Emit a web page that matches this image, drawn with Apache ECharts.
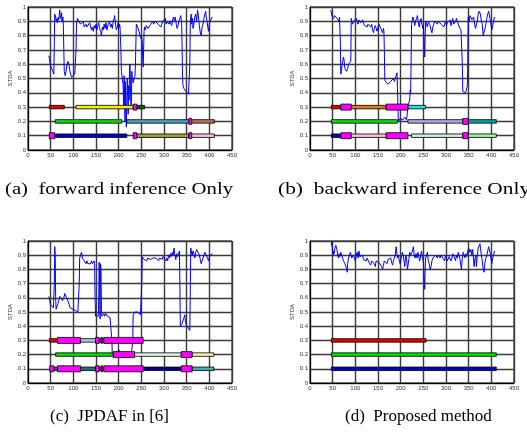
<!DOCTYPE html>
<html>
<head>
<meta charset="utf-8">
<script src="https://cdn.jsdelivr.net/npm/echarts@6/dist/echarts.min.js"></script>
<style>
html,body{margin:0;padding:0;background:#fff;}
#main{width:527px;height:446px;}
</style>
</head>
<body>
<div id="main"></div>
<script>
// axis ticks
var xTicks = [0, 50, 100, 150, 200, 250, 300, 350, 400, 450];
var yTicks = [0, 0.1, 0.2, 0.3, 0.4, 0.5, 0.6, 0.7, 0.8, 0.9, 1];

var captions = ['(a)  forward inference Only', '(b)  backward inference Only', '(c)  JPDAF in [6]', '(d)  Proposed method'];

// STDA curves [frame, value]
var lineA = [[46,0.66],[47,0.64],[49,0.6],[51,0.58],[53,0.57],[55,0.55],[57,0.53],[58,0.75],[59,0.95],[61,0.93],[62,0.9],[64,0.92],[65,0.89],[67,0.93],[68,0.91],[70,0.98],[71,0.94],[72,0.92],[74,0.96],[75,0.9],[77,0.93],[78,0.86],[79,0.7],[80,0.55],[82,0.52],[84,0.55],[86,0.6],[88,0.62],[90,0.6],[92,0.56],[94,0.53],[96,0.51],[98,0.52],[100,0.52],[103,0.53],[105,0.53],[106,0.7],[107,0.88],[109,0.92],[110,0.93],[112,0.9],[114,0.91],[116,0.88],[118,0.89],[120,0.87],[122,0.9],[124,0.86],[126,0.86],[128,0.88],[130,0.86],[132,0.87],[134,0.85],[136,0.89],[138,0.88],[140,0.84],[142,0.86],[144,0.83],[146,0.87],[148,0.85],[150,0.88],[152,0.84],[154,0.87],[156,0.89],[158,0.85],[160,0.83],[162,0.8],[164,0.86],[166,0.84],[168,0.88],[170,0.85],[172,0.89],[174,0.84],[176,0.87],[178,0.86],[180,0.9],[182,0.86],[184,0.88],[186,0.85],[188,0.9],[190,0.92],[191,0.94],[193,0.88],[195,0.84],[197,0.86],[199,0.89],[200,0.85],[202,0.88],[203,0.86],[204,0.85],[205,0.7],[206,0.55],[208,0.55],[209,0.54],[210,0.45],[211,0.3],[212,0.52],[213,0.4],[214,0.2],[215,0.48],[216,0.3],[217,0.16],[218,0.35],[219,0.5],[220,0.4],[221,0.25],[222,0.45],[223,0.35],[224,0.58],[225,0.6],[226,0.45],[227,0.3],[228,0.32],[229,0.55],[230,0.5],[232,0.47],[234,0.5],[236,0.52],[237,0.6],[238,0.75],[239,0.88],[241,0.87],[243,0.85],[245,0.83],[247,0.8],[249,0.78],[250,0.8],[252,0.76],[253,0.65],[254,0.58],[255,0.7],[256,0.83],[257,0.86],[259,0.84],[261,0.87],[263,0.88],[265,0.85],[267,0.84],[269,0.86],[271,0.88],[273,0.89],[275,0.9],[277,0.88],[279,0.89],[281,0.9],[283,0.91],[285,0.89],[287,0.88],[289,0.87],[291,0.89],[293,0.86],[295,0.88],[297,0.9],[299,0.89],[301,0.9],[303,0.92],[305,0.88],[307,0.9],[309,0.91],[311,0.88],[313,0.9],[315,0.89],[317,0.87],[319,0.91],[321,0.93],[323,0.9],[325,0.93],[327,0.88],[329,0.85],[331,0.87],[333,0.9],[335,0.92],[337,0.94],[339,0.88],[340,0.7],[341,0.5],[342,0.45],[344,0.43],[346,0.42],[348,0.41],[350,0.4],[352,0.4],[354,0.39],[356,0.38],[357,0.6],[358,0.9],[360,0.95],[361,0.88],[363,0.92],[364,0.85],[366,0.88],[368,0.93],[370,0.95],[372,0.9],[374,0.98],[375,0.96],[377,0.9],[378,0.87],[380,0.82],[382,0.8],[384,0.86],[386,0.88],[388,0.92],[390,0.95],[392,0.97],[393,0.93],[395,0.9],[397,0.85],[398,0.83],[400,0.88],[402,0.9],[404,0.91],[406,0.93],[407,0.93]];

var lineB = [[46,0.98],[47,0.97],[48,0.94],[50,0.93],[52,0.92],[54,0.94],[56,0.95],[58,0.93],[60,0.92],[62,0.91],[64,0.9],[65,0.93],[66,0.92],[67,0.75],[68,0.53],[69,0.55],[71,0.6],[72,0.62],[74,0.65],[75,0.63],[77,0.57],[79,0.56],[81,0.55],[83,0.57],[85,0.6],[87,0.6],[89,0.61],[90,0.62],[91,0.92],[92,0.9],[94,0.88],[96,0.9],[98,0.91],[100,0.89],[102,0.92],[104,0.9],[106,0.88],[108,0.91],[110,0.92],[112,0.89],[114,0.9],[116,0.91],[118,0.9],[120,0.87],[122,0.86],[124,0.87],[126,0.86],[128,0.88],[130,0.89],[132,0.87],[134,0.86],[136,0.88],[138,0.84],[140,0.82],[142,0.85],[144,0.87],[146,0.85],[148,0.83],[150,0.86],[152,0.88],[154,0.87],[156,0.85],[158,0.84],[160,0.82],[162,0.85],[163,0.83],[164,0.7],[165,0.5],[166,0.48],[168,0.47],[170,0.48],[172,0.46],[174,0.46],[176,0.47],[178,0.48],[180,0.47],[182,0.49],[184,0.5],[186,0.48],[188,0.5],[190,0.52],[192,0.54],[193,0.53],[194,0.3],[195,0.2],[197,0.21],[199,0.22],[201,0.23],[203,0.22],[205,0.21],[207,0.22],[209,0.23],[211,0.22],[213,0.21],[215,0.22],[216,0.3],[218,0.33],[220,0.35],[221,0.42],[222,0.4],[223,0.6],[224,0.88],[225,0.9],[227,0.93],[229,0.91],[231,0.87],[233,0.9],[235,0.92],[237,0.94],[239,0.89],[241,0.86],[243,0.9],[245,0.92],[247,0.88],[249,0.85],[250,0.87],[252,0.75],[253,0.65],[254,0.8],[255,0.9],[257,0.88],[259,0.86],[261,0.9],[263,0.91],[265,0.87],[267,0.84],[269,0.82],[271,0.86],[273,0.88],[275,0.9],[277,0.91],[279,0.89],[281,0.88],[283,0.9],[285,0.89],[287,0.91],[289,0.88],[291,0.87],[293,0.89],[295,0.86],[297,0.88],[299,0.9],[301,0.87],[303,0.89],[305,0.9],[307,0.88],[309,0.91],[311,0.87],[313,0.9],[315,0.92],[317,0.88],[319,0.87],[321,0.9],[323,0.92],[325,0.93],[327,0.88],[329,0.86],[331,0.87],[333,0.84],[335,0.85],[336,0.6],[337,0.41],[339,0.41],[341,0.4],[343,0.4],[345,0.42],[347,0.45],[348,0.6],[349,0.93],[351,0.9],[353,0.94],[355,0.95],[357,0.91],[359,0.9],[361,0.93],[363,0.88],[365,0.85],[367,0.86],[369,0.9],[371,0.95],[373,0.97],[375,0.98],[376,0.95],[378,0.9],[380,0.88],[382,0.8],[384,0.79],[386,0.85],[388,0.88],[390,0.92],[392,0.95],[394,0.97],[395,0.96],[397,0.92],[399,0.88],[401,0.84],[403,0.87],[405,0.9],[407,0.93],[408,0.93]];

var lineC = [[46,0.61],[48,0.58],[50,0.55],[52,0.54],[54,0.56],[56,0.53],[57,0.54],[58,0.7],[59,0.96],[60,0.9],[61,0.6],[62,0.52],[64,0.53],[66,0.56],[68,0.58],[70,0.61],[72,0.62],[74,0.6],[76,0.58],[77,0.57],[79,0.6],[81,0.63],[83,0.62],[85,0.6],[87,0.59],[89,0.57],[91,0.55],[93,0.53],[95,0.52],[97,0.54],[99,0.52],[101,0.51],[103,0.52],[105,0.51],[108,0.5],[110,0.5],[112,0.49],[113,0.7],[114,0.88],[116,0.9],[118,0.92],[120,0.88],[122,0.87],[124,0.86],[126,0.85],[128,0.84],[130,0.86],[132,0.84],[134,0.83],[136,0.85],[138,0.84],[140,0.86],[142,0.84],[144,0.85],[146,0.86],[147,0.84],[148,0.6],[149,0.47],[151,0.48],[153,0.46],[155,0.47],[156,0.6],[157,0.85],[158,0.7],[159,0.45],[160,0.84],[161,0.8],[162,0.5],[163,0.47],[165,0.48],[167,0.49],[169,0.47],[171,0.49],[173,0.48],[175,0.47],[177,0.48],[179,0.47],[181,0.46],[183,0.46],[184,0.45],[185,0.3],[186,0.2],[188,0.2],[190,0.21],[192,0.2],[194,0.21],[196,0.22],[198,0.23],[200,0.23],[202,0.23],[204,0.21],[206,0.2],[208,0.21],[210,0.21],[212,0.2],[214,0.2],[216,0.21],[218,0.2],[220,0.2],[222,0.21],[224,0.2],[226,0.2],[228,0.2],[230,0.2],[231,0.3],[232,0.48],[234,0.49],[236,0.5],[238,0.51],[240,0.51],[242,0.5],[244,0.49],[246,0.49],[248,0.48],[250,0.48],[251,0.7],[252,0.89],[254,0.88],[256,0.87],[258,0.88],[260,0.87],[262,0.86],[264,0.88],[266,0.87],[268,0.89],[270,0.87],[272,0.88],[274,0.86],[276,0.88],[278,0.89],[280,0.87],[282,0.88],[284,0.87],[286,0.88],[288,0.86],[290,0.88],[292,0.89],[294,0.88],[296,0.87],[298,0.89],[300,0.9],[302,0.88],[304,0.86],[306,0.88],[308,0.86],[310,0.9],[312,0.88],[314,0.91],[316,0.89],[318,0.92],[320,0.9],[322,0.95],[324,0.9],[326,0.87],[328,0.91],[330,0.89],[332,0.88],[334,0.93],[335,0.7],[336,0.4],[338,0.41],[340,0.42],[342,0.43],[344,0.46],[346,0.48],[347,0.44],[349,0.41],[351,0.4],[353,0.39],[355,0.38],[357,0.37],[358,0.36],[359,0.95],[360,0.94],[362,0.9],[364,0.93],[366,0.91],[368,0.88],[370,0.92],[372,0.94],[374,0.95],[376,0.93],[378,0.9],[380,0.87],[382,0.84],[384,0.86],[386,0.88],[388,0.9],[390,0.92],[392,0.93],[394,0.91],[396,0.88],[398,0.86],[399,0.86],[401,0.9],[403,0.89],[405,0.9],[407,0.91]];

var lineD = [[47,0.97],[48,1.0],[49,0.95],[50,0.92],[51,0.9],[52,0.93],[53,0.91],[55,0.95],[57,0.97],[59,0.98],[60,0.93],[61,0.9],[63,0.88],[64,0.91],[66,0.89],[68,0.92],[70,0.9],[72,0.88],[74,0.86],[75,0.87],[77,0.84],[79,0.82],[81,0.8],[82,0.78],[83,0.84],[85,0.88],[87,0.9],[89,0.92],[90,0.91],[92,0.88],[94,0.87],[96,0.9],[98,0.89],[100,0.86],[102,0.9],[104,0.92],[106,0.88],[108,0.93],[110,0.89],[112,0.9],[114,0.88],[116,0.9],[118,0.87],[120,0.86],[122,0.87],[124,0.86],[126,0.88],[128,0.87],[130,0.85],[132,0.84],[134,0.83],[136,0.86],[138,0.87],[140,0.85],[142,0.84],[144,0.82],[146,0.86],[148,0.85],[150,0.87],[152,0.85],[154,0.84],[156,0.86],[158,0.82],[160,0.8],[162,0.83],[164,0.86],[166,0.87],[168,0.85],[170,0.84],[172,0.87],[174,0.86],[176,0.88],[178,0.88],[180,0.85],[182,0.83],[184,0.86],[186,0.88],[188,0.9],[190,0.96],[191,0.93],[193,0.88],[195,0.9],[197,0.86],[199,0.84],[200,0.85],[202,0.9],[204,0.92],[206,0.93],[208,0.85],[209,0.82],[211,0.9],[213,0.88],[215,0.8],[216,0.79],[218,0.87],[220,0.92],[222,0.9],[224,0.89],[226,0.93],[228,0.96],[230,0.9],[232,0.88],[234,0.91],[236,0.88],[238,0.92],[240,0.92],[242,0.86],[244,0.85],[246,0.93],[248,0.88],[250,0.86],[251,0.8],[252,0.73],[253,0.66],[254,0.8],[255,0.88],[257,0.9],[259,0.92],[261,0.86],[263,0.84],[265,0.8],[267,0.82],[269,0.86],[271,0.88],[273,0.87],[275,0.89],[277,0.9],[279,0.89],[281,0.88],[283,0.9],[285,0.89],[287,0.88],[289,0.9],[291,0.89],[293,0.88],[295,0.87],[297,0.86],[299,0.9],[301,0.88],[303,0.86],[305,0.87],[307,0.89],[309,0.9],[311,0.86],[313,0.88],[315,0.91],[317,0.92],[319,0.88],[321,0.86],[323,0.9],[325,0.88],[327,0.92],[329,0.93],[331,0.87],[333,0.82],[334,0.8],[336,0.88],[338,0.92],[340,0.9],[342,0.88],[344,0.91],[346,0.89],[348,0.93],[350,0.95],[351,0.96],[353,0.92],[355,0.94],[357,0.9],[359,0.94],[361,0.86],[362,0.82],[364,0.88],[366,0.9],[367,0.82],[369,0.9],[371,0.95],[373,0.96],[375,0.98],[376,0.95],[378,0.9],[380,0.86],[382,0.8],[384,0.78],[386,0.85],[388,0.88],[390,0.9],[392,0.93],[394,0.96],[395,0.97],[397,0.92],[399,0.88],[401,0.84],[403,0.88],[405,0.9],[407,0.93],[408,0.93]];

// track segments [start frame, end frame, row]
var tracksA = [[47,80,0.3],[106,232,0.3],[240,257,0.3],[60,207,0.2],[218,355,0.2],[361,411,0.2],[60,218,0.1],[240,355,0.1],[361,411,0.1]];
var colorsA = ['#e00000','#f0f000','#006000','#00e000','#4ba0c0','#c07050','#0000c8','#a0a040','#f8c0d8'];
var switchA = [[232,240,0.3],[355,361,0.2],[47,59,0.1],[232,240,0.1],[355,361,0.1]];

var tracksB = [[47,68,0.3],[91,168,0.3],[216,255,0.3],[47,193,0.2],[216,337,0.2],[349,411,0.2],[47,68,0.1],[91,168,0.1],[224,337,0.1],[349,411,0.1]];
var colorsB = ['#e00000','#e07818','#20e0e0','#00e000','#a8a8f0','#00a0a8','#0000c8','#f8c0d8','#c8f0d8','#a0f0a0'];
var switchB = [[68,91,0.3],[168,216,0.3],[337,349,0.2],[68,91,0.1],[168,216,0.1],[337,349,0.1]];

var tracksC = [[47,65,0.3],[116,149,0.3],[157,167,0.3],[61,188,0.2],[235,338,0.2],[362,410,0.2],[57,65,0.1],[116,149,0.1],[157,167,0.1],[254,338,0.1],[362,410,0.1]];
var colorsC = ['#e00000','#b0c8e0','#800060','#00e000','#e4f2e4','#f8f0a0','#207070','#207070','#800060','#000088','#40b0b0'];
var switchC = [[65,116,0.3],[149,157,0.3],[161,164,0.3],[167,254,0.3],[188,235,0.2],[338,362,0.2],[48,57,0.1],[65,116,0.1],[149,157,0.1],[161,164,0.1],[167,254,0.1],[338,362,0.1]];

var tracksD = [[47,256,0.3],[47,411,0.2],[47,411,0.1]];
var colorsD = ['#e00000','#00e000','#0000c8'];
var switchD = [];

var panels = [
    {line: lineA, tracks: tracksA, colors: colorsA, sw: switchA},
    {line: lineB, tracks: tracksB, colors: colorsB, sw: switchB},
    {line: lineC, tracks: tracksC, colors: colorsC, sw: switchC},
    {line: lineD, tracks: tracksD, colors: colorsD, sw: switchD}
];
var grids = [
    {left: 28, top: 7, width: 204, height: 143},
    {left: 310, top: 7, width: 204, height: 143},
    {left: 28, top: 241, width: 204, height: 142},
    {left: 310, top: 241, width: 204, height: 142}
];
// caption x, y, horizontal stretch
var captionPos = [[5, 181, 1.22], [278, 181, 1.26], [50, 408, 1], [345, 408, 1]];

//画一段轨迹条
function barRenderer(colors, h){
    return function(params, api){
        var s = api.coord([api.value(0), api.value(2)]);
        var e = api.coord([api.value(1), api.value(2)]);
        return {
            type: 'rect',
            shape: {x: s[0], y: s[1] - h / 2, width: e[0] - s[0], height: h},
            style: {fill: colors ? colors[params.dataIndex] : '#ff00ff', stroke: '#000', lineWidth: 0.8}
        };
    };
}

var tickFont = {fontFamily: 'Liberation Sans', fontSize: 6, color: '#333'};
var option = {
    animation: false,
    backgroundColor: '#fff',
    graphic: [], grid: [], xAxis: [], yAxis: [], series: []
};

for (var i = 0; i < 4; i++) {
    var g = grids[i];
    option.grid.push({left: g.left, top: g.top, width: g.width, height: g.height,
        show: true, borderColor: '#000', borderWidth: 1, backgroundColor: '#fff'});
    option.graphic.push({type: 'text', x: captionPos[i][0], y: captionPos[i][1], scaleX: captionPos[i][2],
        style: {text: captions[i], font: '17px "Liberation Serif"', fill: '#000'}});
    option.xAxis.push({
        type: 'value', gridIndex: i, min: xTicks[0], max: xTicks[xTicks.length - 1], interval: 50,
        axisLine: {show: true, lineStyle: {color: '#000', width: 1}},
        axisTick: {show: false},
        axisLabel: Object.assign({margin: 2}, tickFont),
        splitLine: {show: true, lineStyle: {color: '#3a3a3a', width: 1.4}}
    });
    option.yAxis.push({
        type: 'value', gridIndex: i, min: yTicks[0], max: yTicks[yTicks.length - 1], interval: 0.1,
        name: 'STDA', nameLocation: 'middle', nameGap: 14, nameRotate: 90,
        nameTextStyle: tickFont,
        axisLine: {show: true, lineStyle: {color: '#000', width: 1}},
        axisTick: {show: false},
        axisLabel: Object.assign({margin: 2, formatter: function(v){
            return (v === 0 || v === 1) ? String(v) : v.toFixed(1);
        }}, tickFont),
        splitLine: {show: true, lineStyle: {color: '#3a3a3a', width: 1.4}}
    });
    var p = panels[i];
    option.series.push({
        type: 'line', xAxisIndex: i, yAxisIndex: i, data: p.line,
        showSymbol: false, lineStyle: {color: '#0000ff', width: 1}, z: 3
    });
    option.series.push({
        type: 'custom', xAxisIndex: i, yAxisIndex: i, data: p.tracks,
        renderItem: barRenderer(p.colors, 3.5), z: 4
    });
    option.series.push({
        type: 'custom', xAxisIndex: i, yAxisIndex: i, data: p.sw,
        renderItem: barRenderer(null, 6), z: 5
    });
}

var myChart = echarts.init(document.getElementById('main'), null, {renderer: 'canvas'});
myChart.setOption(option);
</script>
</body>
</html>
